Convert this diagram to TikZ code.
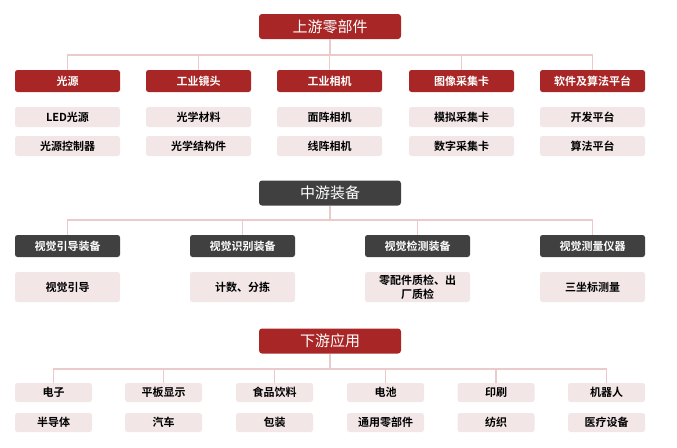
\documentclass[tikz,border=0pt]{standalone}
\usepackage{fontspec}
\newfontfamily\cjk{Noto Sans CJK SC}
\newfontfamily\cjkb{Noto Sans CJK SC Bold}
\definecolor{hdred}{HTML}{A82626}
\definecolor{hdgray}{HTML}{404040}
\definecolor{subfill}{HTML}{F3E6E7}
\definecolor{linkc}{HTML}{EBCACC}
\tikzset{
  head/.style={fill=hdred, rounded corners=3pt, minimum width=142pt, minimum height=25pt, inner sep=0pt, text=white, font=\cjk\fontsize{15}{17}\selectfont},
  headgray/.style={head, fill=hdgray},
  catr/.style={fill=hdred, rounded corners=2.5pt, minimum width=105pt, minimum height=22pt, inner sep=0pt, text=white, font=\cjkb\fontsize{11}{13}\selectfont},
  catg/.style={catr, fill=hdgray},
  sub/.style={fill=subfill, rounded corners=2.5pt, minimum width=105pt, minimum height=20pt, inner sep=0pt, text=black, font=\cjkb\fontsize{11}{13}\selectfont},
  subtall/.style={sub, minimum height=30pt, align=center, font=\cjkb\fontsize{11}{14}\selectfont},
  subs/.style={sub, minimum width=77pt, minimum height=19pt},
  link/.style={draw=linkc, line width=1.2pt}
}
\begin{document}
\begin{tikzpicture}[x=1pt,y=-1pt]
\useasboundingbox (0,0) rectangle (677,447);
% ---------- upstream ----------
\node[head] (h1) at (330,26.5) {上游零部件};
\coordinate (j1) at (330,55);
\foreach \i/\x/\t/\a/\b in {1/67.5/光源/LED光源/光源控制器, 2/198.5/工业镜头/光学材料/光学结构件, 3/329.5/工业相机/面阵相机/线阵相机, 4/461.5/图像采集卡/模拟采集卡/数字采集卡, 5/592.5/软件及算法平台/开发平台/算法平台}{
  \node[catr] (u\i) at (\x,81) {\t};
  \node[sub] (ua\i) at (\x,117) {\a};
  \node[sub] (ub\i) at (\x,146) {\b};
}
\draw[link] (h1.south) -- (j1);
\draw[link] (u1.north) |- (j1) -| (u5.north);
\foreach \i in {2,3,4} \draw[link] (u\i.north) -- (u\i.north |- j1);
% ---------- midstream ----------
\node[headgray] (h2) at (330,193) {中游装备};
\coordinate (j2) at (330,220);
\node[catg] (m1) at (67.5,246) {视觉引导装备};
\node[catg] (m2) at (242.5,246) {视觉识别装备};
\node[catg] (m3) at (417.5,246) {视觉检测装备};
\node[catg] (m4) at (592.5,246) {视觉测量仪器};
\node[subtall] (ma1) at (67.5,287) {视觉引导};
\node[subtall] (ma2) at (242.5,287) {计数、分拣};
\node[subtall] (ma3) at (417.5,287) {零配件质检、出\\厂质检};
\node[subtall] (ma4) at (592.5,287) {三坐标测量};
\draw[link] (h2.south) -- (j2);
\draw[link] (m1.north) |- (j2) -| (m4.north);
\foreach \i in {2,3} \draw[link] (m\i.north) -- (m\i.north |- j2);
% ---------- downstream ----------
\node[head] (h3) at (330,341) {下游应用};
\coordinate (j3) at (330,369);
\foreach \i/\x/\a/\b in {1/53.5/电子/半导体, 2/163.5/平板显示/汽车, 3/274.5/食品饮料/包装, 4/385.5/电池/通用零部件, 5/496/印刷/纺织, 6/606.5/机器人/医疗设备}{
  \node[subs] (da\i) at (\x,392.5) {\a};
  \node[subs] (db\i) at (\x,422.5) {\b};
}
\draw[link] (h3.south) -- (j3);
\draw[link] (da1.north) |- (j3) -| (da6.north);
\foreach \i in {2,3,4,5} \draw[link] (da\i.north) -- (da\i.north |- j3);
\end{tikzpicture}
\end{document}
